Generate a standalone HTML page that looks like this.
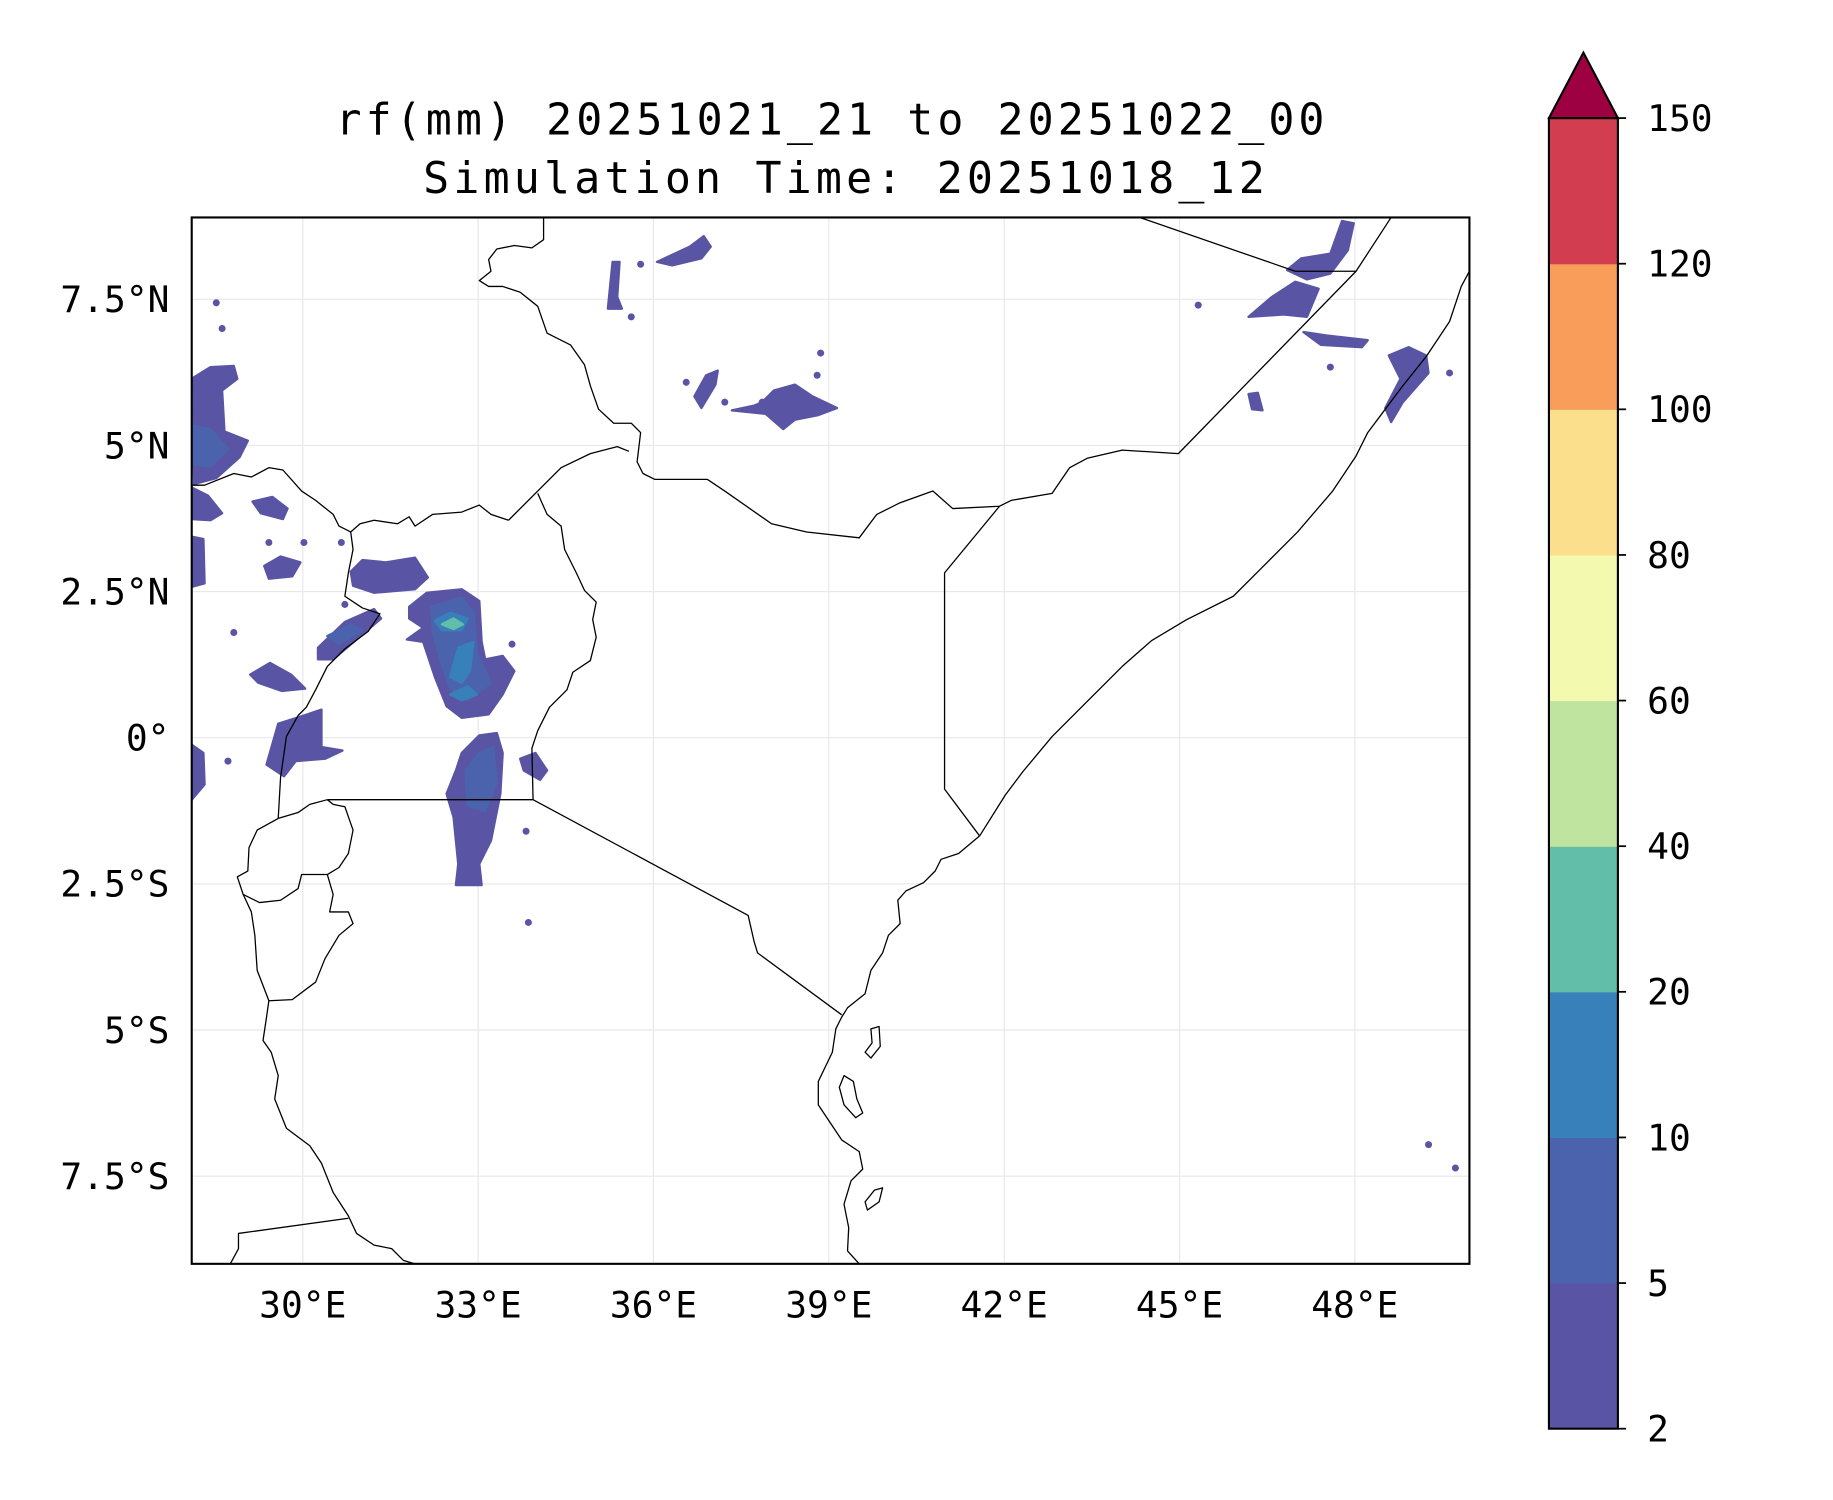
<!DOCTYPE html>
<html><head><meta charset="utf-8"><style>
html,body{margin:0;padding:0;background:#fff;}
svg{display:block;}
text{font-family:"DejaVu Sans Mono","Liberation Mono",monospace;fill:#000;}
</style></head><body>
<svg id="fig" width="1833" height="1500" viewBox="0 0 1568 1283" preserveAspectRatio="none" xmlns="http://www.w3.org/2000/svg">
<rect width="1568" height="1283" fill="#fff"/>
<text x="710" y="115" font-size="37" text-anchor="middle" textLength="846">rf(mm) 20251021_21 to 20251022_00</text>
<text x="722" y="165" font-size="37" text-anchor="middle" textLength="720">Simulation Time: 20251018_12</text>
<defs><clipPath id="mapclip"><rect x="164" y="186" width="1093" height="895"/></clipPath></defs>
<g id="grid"></g>
<g id="rain" clip-path="url(#mapclip)"></g>
<g id="basemap" clip-path="url(#mapclip)" fill="none" stroke="#000" stroke-width="1.1" stroke-linejoin="round">
<path d="M465,186 L465,205 455,212 440,210 425,213 418,222 420,232 410,240 418,245 430,245 445,250 460,262 468,285 488,295 500,312 505,330 512,350 525,362 540,362 548,370 545,395 550,405 560,410 605,410 620,420 660,448 690,455 735,460 750,440 770,430 798,420 815,435 855,433 865,428 900,422 915,400 930,392 960,385 1008,388 1160,232 1190,186"/>
<path d="M975,186 L1108,232 1160,232"/>
<path d="M855,433 L808,490 808,675 838,715"/>
<path d="M435,445 L462,418 480,400 505,388 528,382 538,386"/>
<path d="M460,422 L468,440 480,450 483,470 493,490 500,505 510,515 507,530 510,545 505,565 490,575 485,590 470,605 460,625 455,640 456,684"/>
<path d="M456,684 L640,783 645,805 648,815 720,868"/>
<path d="M280,684 L456,684"/>
<path d="M300,455 L308,448 320,445 340,448 350,442 355,450 370,440 395,438 410,432 420,440 435,445"/>
<path d="M164,415 L175,415 200,405 215,408 230,400 242,402 258,420 270,428 285,440 290,450 300,455"/>
<path d="M300,455 L302,470 298,490 295,510 310,520 325,525 315,540 295,555 280,570 270,590 262,605 255,612 245,630 240,665 238,700"/>
<path d="M238,700 L255,695 265,688 280,684"/>
<path d="M238,700 L220,710 213,725 212,745 203,750 208,765 222,772 240,770 255,760 258,748 280,748 290,742 298,730 302,710 295,690 285,688 280,684"/>
<path d="M280,748 L285,765 282,780 298,780 302,790 290,800 278,820 270,840 250,855 230,856"/>
<path d="M208,765 L215,780 218,800 220,830 230,856 228,870 225,890 232,900 238,920 235,940 245,965 265,980 275,995 285,1020 298,1040 305,1055 320,1065 335,1068 345,1078 355,1081"/>
<path d="M197,1081 L204,1068 204,1055 298,1042"/>
<path d="M838,715 L860,680 875,660 900,630 930,600 960,570 985,548 1015,530 1055,510 1080,485 1110,455 1140,420 1160,390 1170,370 1185,350 1200,330 1220,305 1240,275 1250,245 1257,232"/>
<path d="M838,715 L820,730 805,735 800,745 790,755 775,762 768,770 770,790 760,800 755,815 745,830 740,850 725,862 720,870 715,880 712,900 700,925 700,945 710,960 720,975 735,985 738,1000 728,1010 722,1030 726,1050 725,1070 735,1081"/>
<path d="M745,880 L752,878 753,895 745,905 740,900 746,892 Z"/>
<path d="M722,920 L730,925 733,940 738,952 732,956 722,945 718,930 Z"/>
<path d="M748,1018 L755,1016 752,1028 742,1035 740,1028 Z"/>
</g>
<rect x="164" y="186" width="1093" height="895" fill="none" stroke="#000" stroke-width="1.8"/>
<g id="axes"></g>
<g id="cbar"></g>
</svg>
<script>
// Axis ticks
const lonTicks = [30, 33, 36, 39, 42, 45, 48];
const lonLabels = ["30°E", "33°E", "36°E", "39°E", "42°E", "45°E", "48°E"];
const latTicks = [7.5, 5, 2.5, 0, -2.5, -5, -7.5];
const latLabels = ["7.5°N", "5°N", "2.5°N", "0°", "2.5°S", "5°S", "7.5°S"];
// Colorbar
const levels = [2, 5, 10, 20, 40, 60, 80, 100, 120, 150];
const levelColors = ["#5954a4", "#4b63ad", "#3880ba", "#62bda9", "#bee4a0", "#f3f9ae", "#fcdf8c", "#f99e5a", "#d33d50"];
const extendColor = "#9e0142";
// Rain contour polygons: level index per shape, then [lon,lat,...]
const rainLevel = [0,1,0,0,0,0,0,0,1,0,0,0,0,1,2,2,2,3,0,1,0,0,0,0,0,0,0,0,0,0];
const rainShapes = [
 [28.1,6.14, 28.42,6.34, 28.82,6.36, 28.88,6.14, 28.62,5.94, 28.66,5.24, 29.06,5.08, 28.92,4.8, 28.52,4.44, 28.14,4.34],
 [28.1,5.34, 28.42,5.28, 28.72,4.94, 28.42,4.64, 28.1,4.68],
 [28.1,4.28, 28.38,4.14, 28.62,3.84, 28.42,3.72, 28.1,3.74],
 [29.14,4.04, 29.48,4.12, 29.74,3.92, 29.66,3.74, 29.28,3.84],
 [28.1,3.44, 28.3,3.4, 28.32,2.64, 28.1,2.58],
 [29.34,2.94, 29.62,3.1, 29.96,3.0, 29.82,2.76, 29.42,2.72],
 [30.82,2.84, 31.02,3.04, 31.42,3.0, 31.92,3.08, 32.14,2.74, 31.92,2.54, 31.22,2.48, 30.86,2.6],
 [30.26,1.54, 30.72,1.98, 31.22,2.2, 31.34,2.04, 30.92,1.68, 30.52,1.34, 30.26,1.34],
 [30.42,1.74, 30.82,1.94, 31.02,1.84, 30.62,1.6],
 [29.1,1.08, 29.44,1.28, 29.8,1.08, 30.04,0.84, 29.64,0.8, 29.24,0.94],
 [29.38,-0.46, 29.58,0.24, 30.08,0.4, 30.32,0.48, 30.32,-0.16, 30.68,-0.22, 30.38,-0.36, 29.88,-0.4, 29.68,-0.66],
 [28.1,-0.12, 28.3,-0.26, 28.32,-0.8, 28.1,-1.06],
 [31.82,2.24, 32.12,2.48, 32.72,2.54, 33.02,2.34, 33.06,1.64, 33.12,1.34, 33.42,1.4, 33.62,1.14, 33.42,0.74, 33.18,0.4, 32.72,0.34, 32.46,0.54, 32.26,1.04, 32.06,1.64, 31.78,1.68, 32.06,1.88, 31.82,2.04],
 [32.2,2.24, 32.72,2.4, 32.92,2.14, 32.98,1.44, 33.22,0.94, 32.82,0.64, 32.52,0.84, 32.32,1.44, 32.22,1.84],
 [32.26,2.0, 32.52,2.14, 32.82,2.04, 32.72,1.84, 32.38,1.84],
 [32.52,1.04, 32.66,1.54, 32.92,1.64, 32.86,1.14, 32.72,0.94],
 [32.52,0.74, 32.82,0.88, 32.98,0.74, 32.72,0.64],
 [32.38,1.94, 32.58,2.04, 32.74,1.94, 32.58,1.86],
 [32.72,-0.26, 33.02,0.04, 33.32,0.08, 33.42,-0.26, 33.38,-0.96, 33.22,-1.76, 33.02,-2.16, 33.06,-2.52, 32.62,-2.52, 32.66,-2.16, 32.58,-1.36, 32.46,-0.96, 32.62,-0.56],
 [32.78,-0.56, 33.02,-0.26, 33.26,-0.16, 33.32,-0.76, 33.12,-1.26, 32.82,-1.16],
 [33.72,-0.36, 33.98,-0.26, 34.18,-0.56, 34.06,-0.72, 33.78,-0.56],
 [36.06,8.14, 36.62,8.4, 36.86,8.58, 36.98,8.4, 36.82,8.2, 36.32,8.08],
 [35.3,8.14, 35.42,8.14, 35.38,7.54, 35.46,7.34, 35.22,7.34],
 [36.7,5.84, 36.9,6.2, 37.1,6.28, 37.06,6.04, 36.82,5.64],
 [37.86,5.74, 38.06,5.94, 38.42,6.04, 38.72,5.84, 39.14,5.64, 38.82,5.52, 38.42,5.44, 38.22,5.28, 37.92,5.54, 37.34,5.6, 37.72,5.68],
 [46.84,8.0, 47.08,8.2, 47.58,8.28, 47.78,8.84, 47.98,8.8, 47.88,8.34, 47.58,7.94, 47.18,7.84],
 [46.18,7.2, 46.58,7.54, 46.98,7.8, 47.38,7.68, 47.18,7.2, 46.78,7.24],
 [47.12,6.94, 47.52,6.88, 48.22,6.8, 48.12,6.68, 47.42,6.72],
 [48.58,6.54, 48.92,6.68, 49.22,6.54, 49.26,6.24, 48.82,5.74, 48.62,5.4, 48.52,5.64, 48.78,6.14],
 [46.18,5.88, 46.34,5.9, 46.42,5.6, 46.24,5.62]
];
const rainDotsLon = [28.52,35.78,35.62,36.56,37.22,37.86,38.86,38.8,28.62,29.42,30.02,30.72,30.66,33.58,28.82,33.82,33.86,49.26,49.72,45.32,47.58,49.62,28.72,30.3];
const rainDotsLat = [7.44,8.1,7.2,6.08,5.74,5.74,6.58,6.2,7.0,3.34,3.34,2.28,3.34,1.6,1.8,-1.6,-3.16,-6.96,-7.36,7.4,6.34,6.24,-0.4,1.44];

const X0 = 164, Y0 = 186, PPD = 50, LON0 = 28.1, LAT0 = 8.9;
const xOf = lon => X0 + (lon - LON0) * PPD;
const yOf = lat => Y0 + (LAT0 - lat) * PPD;
const NS = "http://www.w3.org/2000/svg";
const mk = (tag, parent) => { const e = document.createElementNS(NS, tag); parent.appendChild(e); return e; };

const grid = document.getElementById('grid');
lonTicks.forEach(lon => {
  const l = mk('line', grid);
  
  
  l.setAttribute('x1', xOf(lon)); l.setAttribute('x2', xOf(lon));
  l.setAttribute('y1', 186); l.setAttribute('y2', 1081);
  l.setAttribute('stroke', '#e8e8e8'); l.setAttribute('stroke-width', '1');
});
latTicks.forEach(lat => {
  const l = mk('line', grid);
  
  
  l.setAttribute('x1', 164); l.setAttribute('x2', 1257);
  l.setAttribute('y1', yOf(lat)); l.setAttribute('y2', yOf(lat));
  l.setAttribute('stroke', '#e8e8e8'); l.setAttribute('stroke-width', '1');
});

const rain = document.getElementById('rain');
rainShapes.forEach((pts, i) => {
  const p = mk('polygon', rain);
  
  
  const s = [];
  for (let k = 0; k < pts.length; k += 2) s.push(xOf(pts[k]).toFixed(1) + ',' + yOf(pts[k+1]).toFixed(1));
  p.setAttribute('points', s.join(' '));
  p.setAttribute('fill', levelColors[rainLevel[i]]);
  p.setAttribute('stroke', levelColors[rainLevel[i]]);
  p.setAttribute('stroke-width', '2');
  p.setAttribute('stroke-linejoin', 'round');
});
rainDotsLon.forEach((lon, i) => {
  const c = mk('circle', rain);
  
  
  c.setAttribute('cx', xOf(lon)); c.setAttribute('cy', yOf(rainDotsLat[i]));
  c.setAttribute('r', 3); c.setAttribute('fill', levelColors[0]);
});

const axes = document.getElementById('axes');
lonTicks.forEach((lon, i) => {
  const t = mk('text', axes);
  
  
  t.setAttribute('x', xOf(lon)); t.setAttribute('y', 1127);
  t.setAttribute('font-size', '31'); t.setAttribute('text-anchor', 'middle');
  t.textContent = lonLabels[i];
});
latTicks.forEach((lat, i) => {
  const t = mk('text', axes);
  
  
  t.setAttribute('x', 145); t.setAttribute('y', yOf(lat) + 11);
  t.setAttribute('font-size', '31'); t.setAttribute('text-anchor', 'end');
  t.textContent = latLabels[i];
});

const cb = document.getElementById('cbar');
const CBX = 1325, CBW = 59, CBTOP = 101, CBBOT = 1222;
const seg = (CBBOT - CBTOP) / (levels.length - 1);
const cbY = i => CBBOT - i * seg;
levelColors.forEach((c, i) => {
  const r = mk('rect', cb);
  
  
  r.setAttribute('x', CBX); r.setAttribute('y', cbY(i + 1));
  r.setAttribute('width', CBW); r.setAttribute('height', seg + 0.5);
  r.setAttribute('fill', c);
});
const tri = mk('polygon', cb);


tri.setAttribute('points', `${CBX},${CBTOP} ${CBX + CBW/2},45 ${CBX + CBW},${CBTOP}`);
tri.setAttribute('fill', extendColor); tri.setAttribute('stroke', '#000'); tri.setAttribute('stroke-width', '1.8');
const frame = mk('rect', cb);


frame.setAttribute('x', CBX); frame.setAttribute('y', CBTOP);
frame.setAttribute('width', CBW); frame.setAttribute('height', CBBOT - CBTOP);
frame.setAttribute('fill', 'none'); frame.setAttribute('stroke', '#000'); frame.setAttribute('stroke-width', '1.8');
levels.forEach((v, i) => {
  const tk = mk('line', cb);
  
  
  tk.setAttribute('x1', CBX + CBW); tk.setAttribute('x2', CBX + CBW + 7);
  tk.setAttribute('y1', cbY(i)); tk.setAttribute('y2', cbY(i));
  tk.setAttribute('stroke', '#000'); tk.setAttribute('stroke-width', '1.5');
  const t = mk('text', cb);
  
  
  t.setAttribute('x', 1409); t.setAttribute('y', cbY(i) + 11);
  t.setAttribute('font-size', '31');
  t.textContent = v;
});
</script>
</body></html>
